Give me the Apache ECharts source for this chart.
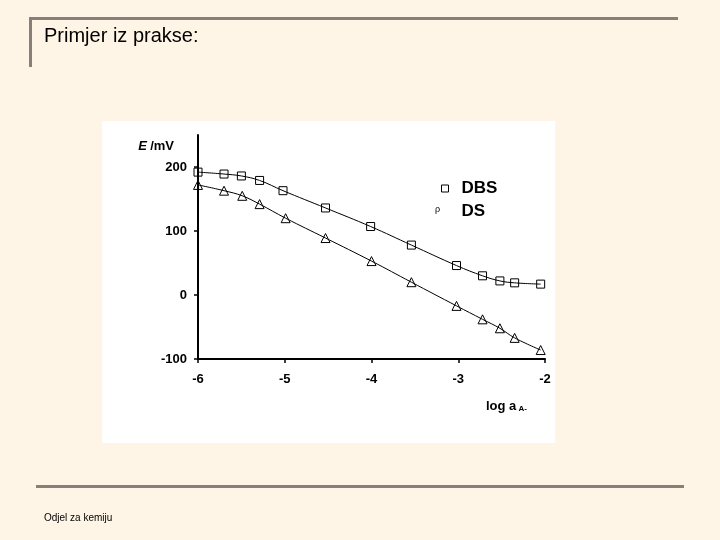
<!DOCTYPE html>
<html>
<head>
<meta charset="utf-8">
<script src="https://cdn.jsdelivr.net/npm/echarts@6/dist/echarts.min.js"></script>
<style>
html,body{margin:0;padding:0;background:#FEF5E7;}
#c{width:720px;height:540px;}
</style>
</head>
<body>
<div id="c"></div>
<script>
const xDBS = [-6, -5.70, -5.50, -5.29, -5.02, -4.53, -4.01, -3.54, -3.02, -2.72, -2.52, -2.35, -2.05];
const yDBS = [192, 189, 186, 179, 163, 136, 107, 78, 46, 30, 22, 19, 17];
const xDS  = [-6, -5.70, -5.49, -5.29, -4.99, -4.53, -4.00, -3.54, -3.02, -2.72, -2.52, -2.35, -2.05];
const yDS  = [172, 163, 155, 142, 120, 89, 53, 20, -17, -38, -52, -67, -86];
const yTicks = [-100, 0, 100, 200];
const xTicks = [-6, -5, -4, -3, -2];
const seriesNames = ['DBS', 'DS'];
const pageTitle = 'Primjer iz prakse:';
const footerText = 'Odjel za kemiju';

const chart = echarts.init(document.getElementById('c'), null, {renderer: 'canvas'});
const pair = (xs, ys) => xs.map((x, i) => [x, ys[i]]);
const hollow = {color: 'rgba(0,0,0,0)', borderColor: '#000', borderWidth: 1};
const frame = '#878079';
const FF = '"Liberation Sans", Arial, sans-serif';

chart.setOption({
  backgroundColor: '#FEF5E7',
  animation: false,
  graphic: [
    {type: 'rect', z: -10, shape: {x: 102, y: 121, width: 453, height: 322}, style: {fill: '#ffffff'}},
    {type: 'rect', shape: {x: 29, y: 17, width: 649, height: 3}, style: {fill: frame}},
    {type: 'rect', shape: {x: 29, y: 17, width: 3, height: 50}, style: {fill: frame}},
    {type: 'rect', shape: {x: 36, y: 485, width: 648, height: 3}, style: {fill: frame}},
    {type: 'text', x: 44, y: 26, style: {text: pageTitle, fill: '#000', font: '20px ' + FF}},
    {type: 'text', x: 44, y: 513, style: {text: footerText, fill: '#000', font: '10px ' + FF}},
    {type: 'text', x: 435, y: 205, style: {text: 'ρ', fill: '#000', font: '9px ' + FF}}
  ],
  legend: {
    orient: 'vertical',
    left: 436,
    top: 175,
    itemGap: 6,
    itemWidth: 7,
    itemHeight: 7,
    selectedMode: false,
    textStyle: {fontFamily: FF, fontWeight: 'bold', fontSize: 17, color: '#000', lineHeight: 17, padding: [0, 0, 0, 8]},
    data: [
      {name: seriesNames[0], icon: 'rect', itemStyle: {color: 'rgba(0,0,0,0)', borderColor: '#000', borderWidth: 1}},
      {name: seriesNames[1], icon: 'none'}
    ]
  },
  grid: {left: 198, right: 175, top: 135, bottom: 181},
  xAxis: {
    type: 'value',
    min: -6, max: -2, interval: 1,
    splitLine: {show: false},
    axisLine: {onZero: false, lineStyle: {color: '#000', width: 2}},
    axisTick: {length: 4, lineStyle: {color: '#000', width: 1.5}},
    axisLabel: {margin: 14, color: '#000', fontWeight: 'bold', fontSize: 13, fontFamily: FF, customValues: xTicks},
    name: '{a|log a}{s| A-}',
    nameLocation: 'end',
    nameGap: 0,
    nameTextStyle: {
      align: 'right', verticalAlign: 'top', padding: [40, 18, 0, 0],
      rich: {
        a: {fontWeight: 'bold', fontSize: 13, color: '#000', fontFamily: FF},
        s: {fontWeight: 'bold', fontSize: 8, color: '#000', padding: [6, 0, 0, 0], fontFamily: FF}
      }
    }
  },
  yAxis: {
    type: 'value',
    min: -100, max: 250, interval: 100,
    splitLine: {show: false},
    axisLine: {onZero: false, lineStyle: {color: '#000', width: 2}},
    axisTick: {length: 4, lineStyle: {color: '#000', width: 1.5}, customValues: yTicks},
    axisLabel: {margin: 11, color: '#000', fontWeight: 'bold', fontSize: 13, fontFamily: FF, customValues: yTicks},
    name: '{e|E} {u|/mV}',
    nameLocation: 'end',
    nameGap: 0,
    nameTextStyle: {
      align: 'right', verticalAlign: 'middle', padding: [0, 24, -22, 0],
      rich: {
        e: {fontWeight: 'bold', fontStyle: 'italic', fontSize: 13, color: '#000', fontFamily: FF},
        u: {fontWeight: 'bold', fontSize: 13, color: '#000', fontFamily: FF}
      }
    }
  },
  series: [
    {
      name: seriesNames[0], type: 'line', smooth: 0.4,
      data: pair(xDBS, yDBS),
      symbol: 'rect', symbolSize: 8,
      lineStyle: {color: '#000', width: 1},
      itemStyle: hollow,
      z: 3
    },
    {
      name: seriesNames[1], type: 'line', smooth: 0.4,
      data: pair(xDS, yDS),
      symbol: 'triangle', symbolSize: 9,
      lineStyle: {color: '#000', width: 1},
      itemStyle: hollow,
      z: 3
    }
  ]
});
</script>
</body>
</html>
